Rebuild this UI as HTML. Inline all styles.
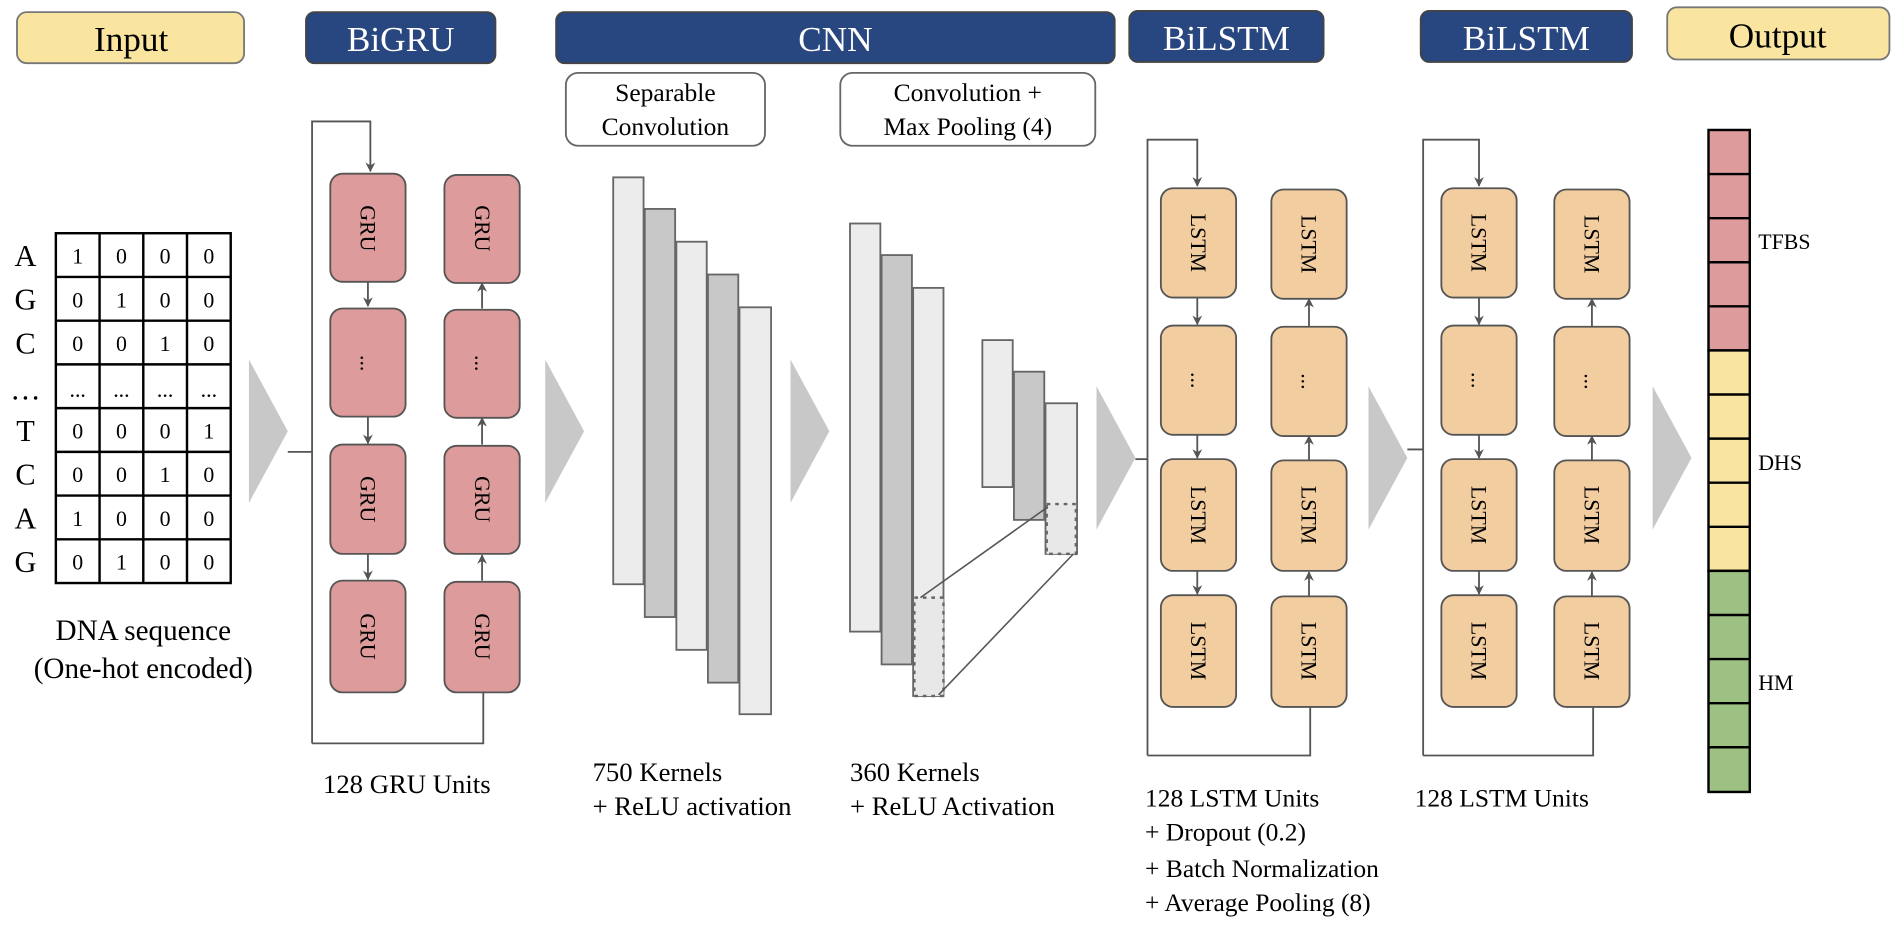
<!DOCTYPE html>
<html><head><meta charset="utf-8"><style>
html,body{margin:0;padding:0;background:#fff;}
svg{display:block;}
text{font-family:"Liberation Serif",serif;}
</style></head><body>
<svg width="1904" height="928" viewBox="0 0 1568 764" preserveAspectRatio="none" xmlns="http://www.w3.org/2000/svg">
<defs>
<marker id="ah" viewBox="0 0 10 10" refX="9" refY="5" markerWidth="8" markerHeight="8" orient="auto-start-reverse" markerUnits="userSpaceOnUse">
<path d="M0,0 L10,5 L0,10 L3,5 z" fill="#555"/></marker>
</defs>
<!-- headers -->
<rect x="14" y="10" width="187" height="42" rx="8" fill="#fae5a0" stroke="#777" stroke-width="1.5"/>
<text x="108" y="42" font-size="29" text-anchor="middle">Input</text>
<rect x="252" y="10" width="156" height="42" rx="7" fill="#284680" stroke="#444" stroke-width="1.5"/>
<text x="330" y="42" font-size="29" text-anchor="middle" fill="#fff">BiGRU</text>
<rect x="458" y="10" width="460" height="42" rx="7" fill="#284680" stroke="#444" stroke-width="1.5"/>
<text x="688" y="42" font-size="29" text-anchor="middle" fill="#fff">CNN</text>
<rect x="930" y="9" width="160" height="42" rx="7" fill="#284680" stroke="#444" stroke-width="1.5"/>
<text x="1010" y="41" font-size="29" text-anchor="middle" fill="#fff">BiLSTM</text>
<rect x="1170" y="9" width="174" height="42" rx="7" fill="#284680" stroke="#444" stroke-width="1.5"/>
<text x="1257" y="41" font-size="29" text-anchor="middle" fill="#fff">BiLSTM</text>
<rect x="1373" y="6" width="183" height="43" rx="8" fill="#fae5a0" stroke="#777" stroke-width="1.5"/>
<text x="1464" y="39" font-size="29" text-anchor="middle">Output</text>
<rect x="466" y="60" width="164" height="60" rx="10" fill="#fff" stroke="#666" stroke-width="1.5"/>
<text x="548" y="83" font-size="21" text-anchor="middle">Separable</text>
<text x="548" y="111" font-size="21" text-anchor="middle">Convolution</text>
<rect x="692" y="60" width="210" height="60" rx="10" fill="#fff" stroke="#666" stroke-width="1.5"/>
<text x="797" y="83" font-size="21" text-anchor="middle">Convolution +</text>
<text x="797" y="111" font-size="21" text-anchor="middle">Max Pooling (4)</text>

<!-- matrix -->
<g stroke="#000" stroke-width="2" fill="none">
<rect x="46" y="192" width="144" height="288"/>
<line x1="82" y1="192" x2="82" y2="480"/><line x1="118" y1="192" x2="118" y2="480"/><line x1="154" y1="192" x2="154" y2="480"/>
<line x1="46" y1="228" x2="190" y2="228"/><line x1="46" y1="264" x2="190" y2="264"/><line x1="46" y1="300" x2="190" y2="300"/>
<line x1="46" y1="336" x2="190" y2="336"/><line x1="46" y1="372" x2="190" y2="372"/><line x1="46" y1="408" x2="190" y2="408"/><line x1="46" y1="444" x2="190" y2="444"/>
</g>
<g font-size="18" text-anchor="middle">
<text x="64" y="217">1</text><text x="100" y="217">0</text><text x="136" y="217">0</text><text x="172" y="217">0</text>
<text x="64" y="253">0</text><text x="100" y="253">1</text><text x="136" y="253">0</text><text x="172" y="253">0</text>
<text x="64" y="289">0</text><text x="100" y="289">0</text><text x="136" y="289">1</text><text x="172" y="289">0</text>
<text x="64" y="327">...</text><text x="100" y="327">...</text><text x="136" y="327">...</text><text x="172" y="327">...</text>
<text x="64" y="361">0</text><text x="100" y="361">0</text><text x="136" y="361">0</text><text x="172" y="361">1</text>
<text x="64" y="397">0</text><text x="100" y="397">0</text><text x="136" y="397">1</text><text x="172" y="397">0</text>
<text x="64" y="433">1</text><text x="100" y="433">0</text><text x="136" y="433">0</text><text x="172" y="433">0</text>
<text x="64" y="469">0</text><text x="100" y="469">1</text><text x="136" y="469">0</text><text x="172" y="469">0</text>
</g>
<g font-size="25" text-anchor="middle">
<text x="21" y="219">A</text><text x="21" y="255">G</text><text x="21" y="291">C</text><text x="21" y="329">…</text>
<text x="21" y="363">T</text><text x="21" y="399">C</text><text x="21" y="435">A</text><text x="21" y="471">G</text>
</g>
<text x="118" y="527" font-size="24" text-anchor="middle">DNA sequence</text>
<text x="118" y="558" font-size="24" text-anchor="middle">(One-hot encoded)</text>

<!-- gray arrows -->
<g fill="#c8c8c8">
<polygon points="205,296 237,355 205,414"/>
<polygon points="449,296 481,355 449,414"/>
<polygon points="651,296 683,355 651,414"/>
<polygon points="903,318 935,377 903,436"/>
<polygon points="1127,318 1159,377 1127,436"/>
<polygon points="1361,318 1393,377 1361,436"/>
</g>

<!-- BiGRU -->
<g stroke="#555" stroke-width="1.5" fill="none">
<polyline points="237,372 257,372"/>
<polyline points="257,612 257,100 305,100 305,141" marker-end="url(#ah)"/>
<polyline points="398,570 398,612 257,612"/>
<line x1="303" y1="232" x2="303" y2="252" marker-end="url(#ah)"/>
<line x1="303" y1="343" x2="303" y2="365" marker-end="url(#ah)"/>
<line x1="303" y1="456" x2="303" y2="477" marker-end="url(#ah)"/>
<line x1="397" y1="254" x2="397" y2="233" marker-end="url(#ah)"/>
<line x1="397" y1="366" x2="397" y2="344" marker-end="url(#ah)"/>
<line x1="397" y1="478" x2="397" y2="457" marker-end="url(#ah)"/>
</g>
<g fill="#dd9b9b" stroke="#555" stroke-width="1.5">
<rect x="272" y="143" width="62" height="89" rx="10"/><rect x="272" y="254" width="62" height="89" rx="10"/>
<rect x="272" y="366" width="62" height="90" rx="10"/><rect x="272" y="478" width="62" height="92" rx="10"/>
<rect x="366" y="144" width="62" height="89" rx="10"/><rect x="366" y="255" width="62" height="89" rx="10"/>
<rect x="366" y="367" width="62" height="89" rx="10"/><rect x="366" y="479" width="62" height="91" rx="10"/>
</g>
<g font-size="18" text-anchor="middle">
<text transform="translate(297,188) rotate(90)">GRU</text>
<text transform="translate(391,188) rotate(90)">GRU</text>
<text transform="translate(297,299) rotate(90)">...</text>
<text transform="translate(391,299) rotate(90)">...</text>
<text transform="translate(297,411) rotate(90)">GRU</text>
<text transform="translate(391,411) rotate(90)">GRU</text>
<text transform="translate(297,524) rotate(90)">GRU</text>
<text transform="translate(391,524) rotate(90)">GRU</text>
</g>
<text x="335" y="653" font-size="22" text-anchor="middle">128 GRU Units</text>

<!-- CNN bars -->
<g stroke="#666" stroke-width="1.5">
<rect x="505" y="146" width="25" height="335" fill="#ececec"/>
<rect x="531" y="172" width="25" height="336" fill="#c8c8c8"/>
<rect x="557" y="199" width="25" height="336" fill="#ececec"/>
<rect x="583" y="226" width="25" height="336" fill="#c8c8c8"/>
<rect x="609" y="253" width="26" height="335" fill="#ececec"/>
<rect x="700" y="184" width="25" height="336" fill="#ececec"/>
<rect x="726" y="210" width="25" height="337" fill="#c8c8c8"/>
<rect x="752" y="237" width="25" height="336" fill="#ececec"/>
<rect x="809" y="280" width="25" height="121" fill="#ececec"/>
<rect x="835" y="306" width="25" height="122" fill="#c8c8c8"/>
<rect x="861" y="332" width="26" height="124" fill="#ececec"/>
</g>
<g stroke="#666" stroke-width="2" stroke-dasharray="3,4" fill="#e8e8e8">
<rect x="753" y="492" width="24" height="81"/>
<rect x="862" y="415" width="24" height="41"/>
</g>
<g stroke="#555" stroke-width="1.3">
<line x1="758" y1="492" x2="862" y2="418"/>
<line x1="773" y1="572" x2="884" y2="456"/>
</g>
<text x="488" y="643" font-size="22">750 Kernels</text>
<text x="488" y="671" font-size="22">+ ReLU activation</text>
<text x="700" y="643" font-size="22">360 Kernels</text>
<text x="700" y="671" font-size="22">+ ReLU Activation</text>

<!-- BiLSTM 1 & 2 -->
<g stroke="#555" stroke-width="1.5" fill="none">
<polyline points="935,378 945,378"/>
<polyline points="945,622 945,115 986,115 986,153" marker-end="url(#ah)"/>
<polyline points="1079,582 1079,622 945,622"/>
<line x1="986" y1="245" x2="986" y2="267" marker-end="url(#ah)"/>
<line x1="986" y1="358" x2="986" y2="377" marker-end="url(#ah)"/>
<line x1="986" y1="470" x2="986" y2="489" marker-end="url(#ah)"/>
<line x1="1078" y1="269" x2="1078" y2="246" marker-end="url(#ah)"/>
<line x1="1078" y1="379" x2="1078" y2="359" marker-end="url(#ah)"/>
<line x1="1078" y1="491" x2="1078" y2="471" marker-end="url(#ah)"/>
<polyline points="1159,370 1172,370"/>
<polyline points="1172,622 1172,115 1218,115 1218,153" marker-end="url(#ah)"/>
<polyline points="1312,582 1312,622 1172,622"/>
<line x1="1218" y1="245" x2="1218" y2="267" marker-end="url(#ah)"/>
<line x1="1218" y1="358" x2="1218" y2="377" marker-end="url(#ah)"/>
<line x1="1218" y1="470" x2="1218" y2="489" marker-end="url(#ah)"/>
<line x1="1311" y1="269" x2="1311" y2="246" marker-end="url(#ah)"/>
<line x1="1311" y1="379" x2="1311" y2="359" marker-end="url(#ah)"/>
<line x1="1311" y1="491" x2="1311" y2="471" marker-end="url(#ah)"/>
</g>
<g fill="#f2cda0" stroke="#555" stroke-width="1.5">
<rect x="956" y="155" width="62" height="90" rx="10"/><rect x="956" y="268" width="62" height="90" rx="10"/>
<rect x="956" y="378" width="62" height="92" rx="10"/><rect x="956" y="490" width="62" height="92" rx="10"/>
<rect x="1047" y="156" width="62" height="90" rx="10"/><rect x="1047" y="269" width="62" height="90" rx="10"/>
<rect x="1047" y="379" width="62" height="91" rx="10"/><rect x="1047" y="491" width="62" height="91" rx="10"/>
<rect x="1187" y="155" width="62" height="90" rx="10"/><rect x="1187" y="268" width="62" height="90" rx="10"/>
<rect x="1187" y="378" width="62" height="92" rx="10"/><rect x="1187" y="490" width="62" height="92" rx="10"/>
<rect x="1280" y="156" width="62" height="90" rx="10"/><rect x="1280" y="269" width="62" height="90" rx="10"/>
<rect x="1280" y="379" width="62" height="91" rx="10"/><rect x="1280" y="491" width="62" height="91" rx="10"/>
</g>
<g font-size="18" text-anchor="middle">
<text transform="translate(981,200) rotate(90)">LSTM</text>
<text transform="translate(1072,201) rotate(90)">LSTM</text>
<text transform="translate(981,313) rotate(90)">...</text>
<text transform="translate(1072,314) rotate(90)">...</text>
<text transform="translate(981,424) rotate(90)">LSTM</text>
<text transform="translate(1072,424) rotate(90)">LSTM</text>
<text transform="translate(981,536) rotate(90)">LSTM</text>
<text transform="translate(1072,536) rotate(90)">LSTM</text>
<text transform="translate(1212,200) rotate(90)">LSTM</text>
<text transform="translate(1305,201) rotate(90)">LSTM</text>
<text transform="translate(1212,313) rotate(90)">...</text>
<text transform="translate(1305,314) rotate(90)">...</text>
<text transform="translate(1212,424) rotate(90)">LSTM</text>
<text transform="translate(1305,424) rotate(90)">LSTM</text>
<text transform="translate(1212,536) rotate(90)">LSTM</text>
<text transform="translate(1305,536) rotate(90)">LSTM</text>
</g>
<g font-size="21">
<text x="943" y="664">128 LSTM Units</text>
<text x="943" y="692">+ Dropout (0.2)</text>
<text x="943" y="722">+ Batch Normalization</text>
<text x="943" y="750">+ Average Pooling (8)</text>
<text x="1165" y="664">128 LSTM Units</text>
</g>

<!-- output column -->
<g stroke="#000" stroke-width="2">
<rect x="1407" y="107" width="34" height="181.5" fill="#dd9b9b"/>
<rect x="1407" y="288.5" width="34" height="181.5" fill="#fae5a0"/>
<rect x="1407" y="470" width="34" height="182" fill="#9dc183"/>
<line x1="1407" y1="143.3" x2="1441" y2="143.3"/><line x1="1407" y1="179.6" x2="1441" y2="179.6"/>
<line x1="1407" y1="215.9" x2="1441" y2="215.9"/><line x1="1407" y1="252.2" x2="1441" y2="252.2"/>
<line x1="1407" y1="324.8" x2="1441" y2="324.8"/><line x1="1407" y1="361.1" x2="1441" y2="361.1"/>
<line x1="1407" y1="397.4" x2="1441" y2="397.4"/><line x1="1407" y1="433.7" x2="1441" y2="433.7"/>
<line x1="1407" y1="506.3" x2="1441" y2="506.3"/><line x1="1407" y1="542.6" x2="1441" y2="542.6"/>
<line x1="1407" y1="578.9" x2="1441" y2="578.9"/><line x1="1407" y1="615.2" x2="1441" y2="615.2"/>
</g>
<g font-size="18">
<text x="1448" y="205">TFBS</text>
<text x="1448" y="387">DHS</text>
<text x="1448" y="568">HM</text>
</g>
</svg>
</body></html>
